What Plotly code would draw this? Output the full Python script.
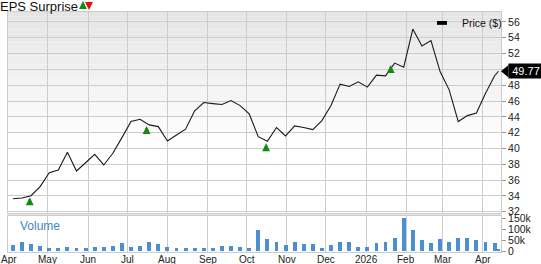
import plotly.graph_objects as go
import pandas as pd

# ---------------- data ----------------
dates = list(pd.date_range("2025-04-04", periods=54, freq="7D").strftime("%Y-%m-%d")) + ["2026-04-13"]
prices = [33.66, 33.75, 34.04, 35.18, 36.95, 37.29, 39.53, 37.16, 38.2, 39.27,
          37.92, 39.4, 41.38, 43.41, 43.7, 42.99, 42.77, 40.96, 41.72, 42.44,
          44.76, 45.81, 45.68, 45.56, 46.06, 45.43, 44.38, 41.5, 40.92, 42.65,
          41.6, 42.86, 42.65, 42.39, 43.53, 45.43, 48.14, 47.84, 48.43, 47.76,
          49.28, 49.19, 50.8, 50.29, 55.1, 52.95, 53.66, 49.73, 47.42, 43.41,
          44.16, 44.5, 47.0, 49.2, 49.77]
volumes = [29, 41, 32, 27, 15, 17, 20, 17, 17, 20,
           20, 23, 39, 20, 26, 45, 36, 20, 17, 17,
           17, 18, 17, 26, 26, 20, 18, 95, 58, 41,
           29, 45, 35, 36, 17, 30, 45, 41, 21, 21,
           39, 44, 61, 150, 98, 52, 38, 55, 44, 62,
           62, 50, 42, 38, 12]
volumes = [v * 1000 for v in volumes]

surprise_dates = ["2025-04-17", "2025-07-16", "2025-10-16", "2026-01-20"]
surprise_tip = [33.84, 42.85, 40.66, 50.56]

month_ticks = ["2025-04-01", "2025-05-01", "2025-06-01", "2025-07-01", "2025-08-01",
               "2025-09-01", "2025-10-01", "2025-11-01", "2025-12-01", "2026-01-01",
               "2026-02-01", "2026-03-01", "2026-04-01"]
month_labels = ["Apr", "May", "Jun", "Jul", "Aug", "Sep", "Oct", "Nov", "Dec",
                "2026", "Feb", "Mar", "Apr"]
price_ticks = [32, 34, 36, 38, 40, 42, 44, 46, 48, 50, 52, 54, 56]
price_labels = ["32", "34", "36", "38", "40", "42", "44", "46", "48", "", "52", "54", "56"]
vol_ticks = [0, 50000, 100000, 150000]
vol_labels = ["0", "50k", "100k", "150k"]
last_price = prices[-1]

# ---------------- styling ----------------
FONT = "Liberation Sans, Arial, sans-serif"
GRID = "#cccccc"
XRANGE = ["2025-03-31 06:00", "2026-04-14 22:00"]
P_DOM = [0.1625, 1.0]
V_DOM = [0.0, 0.15]
GREEN = "#138a13"

fig = go.Figure()

fig.add_trace(go.Scatter(x=dates, y=prices, mode="lines",
                         line=dict(color="#1a1a1a", width=1.1),
                         xaxis="x", yaxis="y", showlegend=False, hoverinfo="skip"))
fig.add_trace(go.Bar(x=dates, y=volumes, marker=dict(color="#4a8fd0", line=dict(width=0)),
                     width=3.0 * 24 * 3600 * 1000,
                     xaxis="x2", yaxis="y2", showlegend=False, hoverinfo="skip"))

shapes = []
# gradient background in the price pane
n = 30
top, bot = P_DOM[1], P_DOM[0] + (P_DOM[1] - P_DOM[0]) * 0.35
for i in range(n):
    y1 = top - (top - bot) * i / n
    y0 = top - (top - bot) * (i + 1) / n
    c = int(229 + (255 - 229) * (i + 0.5) / n)
    shapes.append(dict(type="rect", xref="paper", yref="paper", x0=0, x1=1, y0=y0, y1=y1,
                       fillcolor=f"rgb({c},{c},{c})", line=dict(width=0), layer="below"))
# separator between panes
shapes.append(dict(type="rect", xref="paper", yref="paper", x0=0, x1=1,
                   y0=V_DOM[1], y1=P_DOM[0], fillcolor="#e6e6e6",
                   line=dict(width=0), layer="below"))
# legend swatch
shapes.append(dict(type="rect", xref="paper", yref="paper", x0=0.8702, x1=0.8905,
                   y0=0.9465, y1=0.9625, fillcolor="#000000", line=dict(width=0)))
# last price tag pointer
shapes.append(dict(type="path", xref="paper", yref="y",
                   path=f"M 1.0,{last_price} L 1.0152,{last_price + 0.78} L 1.0152,{last_price - 0.78} Z",
                   fillcolor="#000000", line=dict(width=0)))

annotations = []
for d, t in zip(surprise_dates, surprise_tip):
    annotations.append(dict(x=d, y=t, xref="x", yref="y", text="", showarrow=True,
                            ax=0, ay=9, arrowhead=2, arrowsize=0.72, arrowwidth=2.2,
                            arrowcolor=GREEN, standoff=0))
# month labels along the bottom axis
for d, lab in zip(month_ticks, month_labels):
    annotations.append(dict(x=d, y=0, xref="x2", yref="paper", text=lab, showarrow=False,
                            xanchor="center", yanchor="middle", yshift=-7,
                            font=dict(family=FONT, size=10, color="#222222")))
annotations += [
    dict(x=0, y=1, xref="paper", yref="paper", xanchor="left", yanchor="middle",
         xshift=-10, yshift=6, text="EPS Surprise", showarrow=False,
         font=dict(family=FONT, size=13, color="#111111")),
    dict(x=0, y=1, xref="paper", yref="paper", text="", showarrow=True,
         xshift=75, yshift=11, ax=0, ay=9, arrowhead=2, arrowsize=0.72, arrowwidth=2.2,
         arrowcolor=GREEN, standoff=0),
    dict(x=0, y=1, xref="paper", yref="paper", text="", showarrow=True,
         xshift=81, yshift=2, ax=0, ay=-9, arrowhead=2, arrowsize=0.72, arrowwidth=2.2,
         arrowcolor="#e01010", standoff=0),
    dict(x=0.9165, y=0.955, xref="paper", yref="paper", xanchor="left", yanchor="middle",
         text="Price ($)", showarrow=False, font=dict(family=FONT, size=10.5, color="#111111")),
    dict(x=0.0205, y=0.11, xref="paper", yref="paper", xanchor="left", yanchor="middle",
         text="Volume", showarrow=False, font=dict(family=FONT, size=12, color="#3f86c8")),
    dict(x=1.0, y=last_price, xref="paper", yref="y", xanchor="left", yanchor="middle",
         xshift=7, text=f"{last_price:.2f}", showarrow=False, bgcolor="#000000",
         borderpad=1, font=dict(family=FONT, size=11, color="#ffffff"),
         width=32, align="center"),
]

axis_common = dict(showgrid=True, gridcolor=GRID, gridwidth=1, zeroline=False,
                   showline=True, linecolor=GRID, linewidth=1, mirror=True,
                   automargin=False)

fig.update_layout(
    width=541, height=264,
    margin=dict(l=8, r=40, t=12, b=12),
    paper_bgcolor="#ffffff", plot_bgcolor="rgba(0,0,0,0)",
    font=dict(family=FONT, size=10, color="#222222"),
    showlegend=False,
    bargap=0,
    xaxis=dict(domain=[0, 1], anchor="y", range=XRANGE, type="date",
               tickvals=month_ticks, showticklabels=False, ticks="", **axis_common),
    yaxis=dict(domain=P_DOM, anchor="x", side="right", range=[31.85, 57.26],
               tickvals=price_ticks, ticktext=price_labels, ticks="outside", ticklen=4,
               tickcolor="#999999",
               tickfont=dict(family=FONT, size=10.5, color="#222222"), **axis_common),
    xaxis2=dict(domain=[0, 1], anchor="y2", range=XRANGE, type="date", matches="x",
                tickvals=month_ticks, showticklabels=False, ticks="", **axis_common),
    yaxis2=dict(domain=V_DOM, anchor="x2", side="right", range=[-2300, 160500],
                tickvals=vol_ticks, ticktext=vol_labels, ticks="outside", ticklen=4,
                tickcolor="#999999", showgrid=False, zeroline=False, showline=True,
                linecolor=GRID, mirror=True, automargin=False,
                tickfont=dict(family=FONT, size=10.5, color="#222222")),
    shapes=shapes,
    annotations=annotations,
)

fig.write_html("out.html")
